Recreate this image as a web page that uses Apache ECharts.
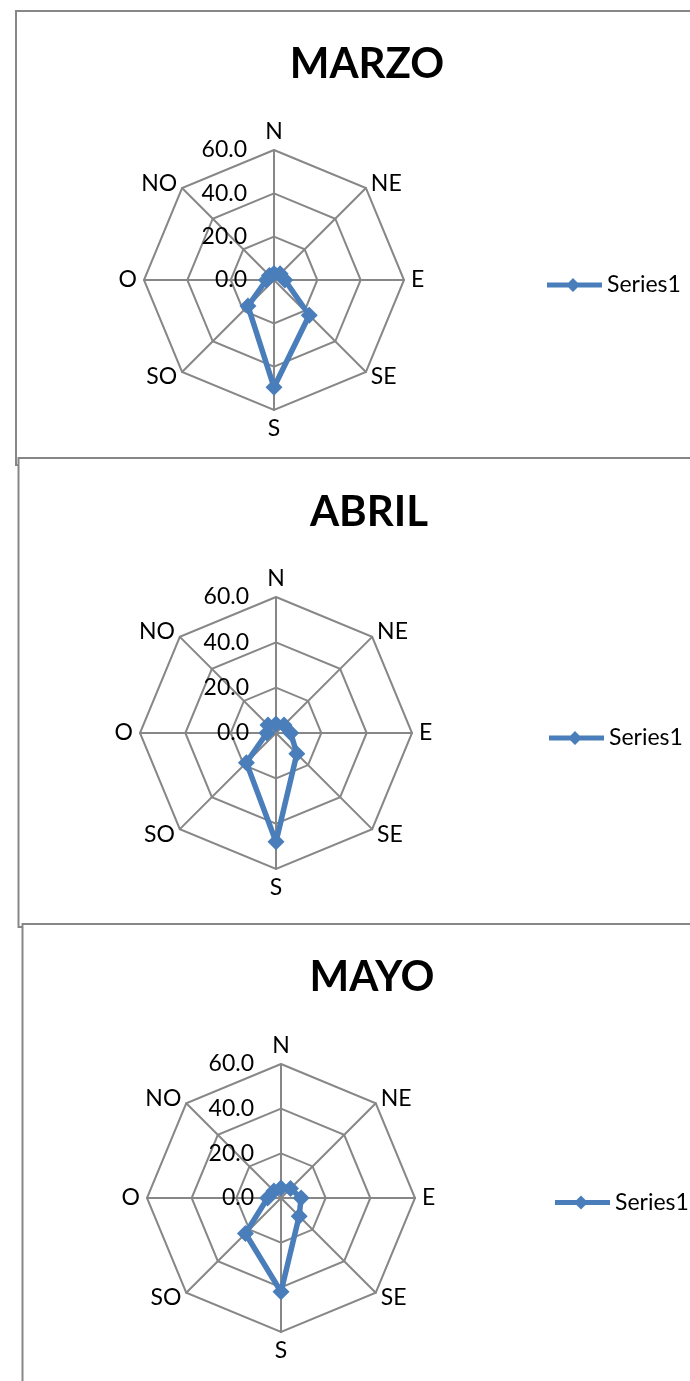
<!DOCTYPE html>
<html>
<head>
<meta charset="utf-8">
<script src="https://cdn.jsdelivr.net/npm/echarts@6/dist/echarts.min.js"></script>
<style>
html,body{margin:0;padding:0;background:#fff;}
#chart{width:690px;height:1381px;}
</style>
</head>
<body>
<div id="chart"></div>
<script>
// Directions in natural (clockwise) order
const directions = ['N', 'NE', 'E', 'SE', 'S', 'SO', 'O', 'NO'];
const titles = ['MARZO', 'ABRIL', 'MAYO'];
const seriesName = 'Series1';
const axisMax = 60;
const tickStep = 20;
const marzo = [3, 4, 5, 23, 49.5, 17, 3.5, 3];
const abril = [4, 5, 6.5, 13, 48, 18.5, 4, 5];
const mayo = [4.5, 6, 9, 11.5, 42, 22.5, 6, 4.5];
const monthValues = [marzo, abril, mayo];

// ECharts places indicators counterclockwise: N, NO, O, SO, S, SE, E, NE
const ccwOrder = [0, 7, 6, 5, 4, 3, 2, 1];

const BLUE = '#4A7EBB';
const GRID = '#878787';
const FONT = 'Lato, "Open Sans", sans-serif';

const layouts = [
  {box: [16, 11, 700, 454], center: [274, 280], radius: 130, titleX: 362, titleY: 38, legend: [542, 268.5]},
  {box: [18.5, 458, 700, 469], center: [276, 733], radius: 136, titleX: 364, titleY: 486, legend: [544, 721.5]},
  {box: [22.5, 924, 700, 500], center: [281, 1198], radius: 134, titleX: 367, titleY: 951, legend: [550, 1186]}
];

const legendIcon = 'path://M0,4.5 L21.5,4.5 L26,0 L30.5,4.5 L55,4.5 L55,9.5 L30.5,9.5 L26,14 L21.5,9.5 L0,9.5 Z';

const option = {
  animation: false,
  backgroundColor: '#fff',
  graphic: layouts.map(l => ({
    type: 'rect',
    z: -10,
    shape: {x: l.box[0], y: l.box[1], width: l.box[2], height: l.box[3]},
    style: {fill: '#fff', stroke: GRID, lineWidth: 2}
  })),
  title: titles.map((t, i) => ({
    text: t,
    left: layouts[i].titleX,
    top: layouts[i].titleY,
    textAlign: 'center',
    textStyle: {fontFamily: FONT, fontWeight: 'bold', fontSize: 42, color: '#000'}
  })),
  legend: layouts.map((l, i) => ({
    data: [seriesName],
    left: l.legend[0],
    top: l.legend[1],
    icon: legendIcon,
    itemWidth: 55,
    itemHeight: 15,
    selectedMode: false,
    textStyle: {fontFamily: FONT, fontSize: 23, color: '#000'}
  })),
  radar: layouts.map(l => ({
    center: l.center,
    radius: l.radius,
    startAngle: 90,
    shape: 'polygon',
    splitNumber: axisMax / tickStep,
    axisName: {color: '#000', fontFamily: FONT, fontSize: 23},
    nameGap: 7,
    splitLine: {lineStyle: {color: GRID, width: 2}},
    splitArea: {show: false},
    axisLine: {lineStyle: {color: GRID, width: 2}},
    axisTick: {show: false},
    axisLabel: {show: false},
    indicator: ccwOrder.map((k, j) => ({
      name: directions[k],
      min: 0,
      max: axisMax,
      axisLabel: j === 0 ? {
        show: true,
        color: '#000',
        fontFamily: FONT,
        fontSize: 23,
        margin: 27,
        padding: [6, 0, 0, 0],
        formatter: v => Number(v).toFixed(1)
      } : {show: false}
    }))
  })),
  series: monthValues.map((vals, i) => ({
    type: 'radar',
    name: seriesName,
    radarIndex: i,
    symbol: 'diamond',
    symbolSize: 17,
    lineStyle: {color: BLUE, width: 5.5},
    itemStyle: {color: BLUE},
    data: [{name: seriesName, value: ccwOrder.map(k => vals[k])}]
  }))
};

const chart = echarts.init(document.getElementById('chart'), null, {renderer: 'canvas'});
chart.setOption(option);
</script>
</body>
</html>
